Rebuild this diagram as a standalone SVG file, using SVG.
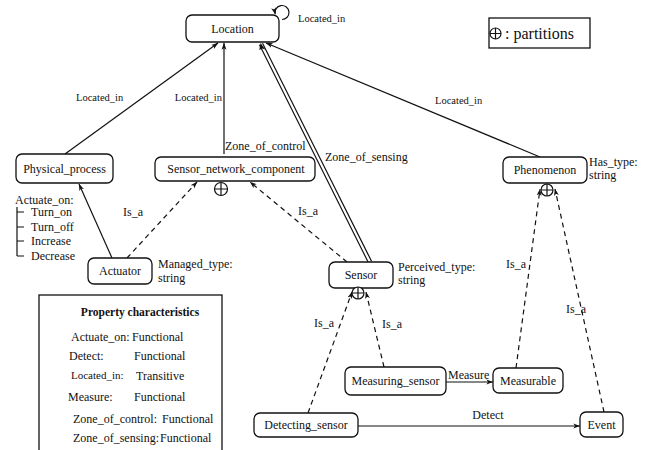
<svg xmlns="http://www.w3.org/2000/svg" width="651" height="450" viewBox="0 0 651 450" font-family="'Liberation Serif', 'DejaVu Serif', serif">
<style>
text{font-family:'Liberation Serif','Times New Roman','DejaVu Serif',serif;font-size:12px;fill:#111}
.n{fill:#fff;stroke:#111;stroke-width:1.3}
.c{text-anchor:middle}
.s{font-size:10.5px}
.e{fill:none;stroke:#111;stroke-width:1.2}
.d{fill:none;stroke:#111;stroke-width:1.2;stroke-dasharray:5,4}
.p{fill:#fff;stroke:#111;stroke-width:1.2}
</style>
<defs>
<marker id="a" viewBox="0 0 10 8" refX="9.5" refY="4" markerWidth="7" markerHeight="6" orient="auto" markerUnits="userSpaceOnUse">
<path d="M0,0.5 L10,4 L0,7.5 L2.5,4 Z" fill="#111"/>
</marker>
</defs>
<g id="connectors">
<path class="e" d="M282,19.5 A7 7 0 1 0 275.2,14.2" marker-end="url(#a)"/>
<line class="e" x1="65" y1="154" x2="218" y2="43" marker-end="url(#a)"/>
<line class="e" x1="224" y1="154" x2="224" y2="43" marker-end="url(#a)"/>
<line class="e" x1="540" y1="157" x2="266" y2="43" marker-end="url(#a)"/>
<line x1="370" y1="262" x2="261" y2="44" stroke="#111" stroke-width="4.6"/>
<line x1="370" y1="262" x2="261" y2="44" stroke="#fff" stroke-width="2.2"/>
<path d="M260.5,43 L265.3,49.5 L262.2,48.5 L259.3,50 Z" fill="#111"/>
<line class="e" x1="112" y1="258" x2="79" y2="184" marker-end="url(#a)"/>
<line class="d" x1="127" y1="258" x2="197" y2="182" marker-end="url(#a)"/>
<line class="d" x1="347" y1="262" x2="250" y2="182" marker-end="url(#a)"/>
<line class="d" x1="308" y1="413" x2="352" y2="292" marker-end="url(#a)"/>
<line class="d" x1="384" y1="367" x2="366" y2="292" marker-end="url(#a)"/>
<line class="d" x1="516" y1="368" x2="540" y2="189" marker-end="url(#a)"/>
<line class="d" x1="604" y1="412" x2="555" y2="189" marker-end="url(#a)"/>
<line class="e" x1="446" y1="382" x2="493" y2="382" marker-end="url(#a)"/>
<line class="e" x1="358" y1="426" x2="580" y2="426" marker-end="url(#a)"/>
<text class="s" x="298" y="22">Located_in</text>
<text class="s" x="76" y="101">Located_in</text>
<text class="s" x="222" y="101" text-anchor="end">Located_in</text>
<text class="s" x="435" y="104">Located_in</text>
<text x="225" y="150">Zone_of_control</text>
<text x="325" y="161">Zone_of_sensing</text>
<text x="123" y="216">Is_a</text>
<text x="298" y="215">Is_a</text>
<text x="314" y="327">Is_a</text>
<text x="382" y="328">Is_a</text>
<text x="506" y="268">Is_a</text>
<text x="566" y="313">Is_a</text>
<text x="448" y="379">Measure</text>
<text class="c" x="488" y="419">Detect</text>
</g>
<g id="Location"><rect class="n" x="186" y="15" width="93" height="27" rx="6"/><text class="c" x="232.5" y="32.5">Location</text></g>
<g id="Physical_process"><rect class="n" x="16" y="154" width="97" height="29" rx="6"/><text class="c" x="64.5" y="172.5">Physical_process</text>
<text x="15" y="203.5">Actuate_on:</text>
<path class="e" d="M17,207 V256 M17,212 H24 M17,227 H24 M17,241 H24 M17,256 H24"/>
<text x="31" y="216">Turn_on</text><text x="31" y="231">Turn_off</text><text x="31" y="245">Increase</text><text x="31" y="260">Decrease</text></g>
<g id="Sensor_network_component"><rect class="n" x="155" y="157" width="160" height="24" rx="6"/><text class="c" x="236" y="173">Sensor_network_component</text>
<circle class="p" cx="221" cy="189" r="6.5"/><path class="e" d="M214.5,189 H227.5 M221,182.5 V195.5"/></g>
<g id="Actuator"><rect class="n" x="88" y="258" width="64" height="26" rx="6"/><text class="c" x="120" y="275">Actuator</text>
<text x="158" y="268">Managed_type:</text><text x="158" y="281.5">string</text></g>
<g id="Sensor"><rect class="n" x="329" y="262" width="64" height="26" rx="6"/><text class="c" x="361" y="279">Sensor</text>
<circle class="p" cx="358" cy="293" r="6"/><path class="e" d="M352,293 H364 M358,287 V299"/>
<text x="398" y="271">Perceived_type:</text><text x="398" y="284">string</text></g>
<g id="Phenomenon"><rect class="n" x="503" y="157" width="84" height="26" rx="6"/><text class="c" x="545" y="174">Phenomenon</text>
<circle class="p" cx="547" cy="190" r="6"/><path class="e" d="M541,190 H553 M547,184 V196"/>
<text x="589" y="166">Has_type:</text><text x="589" y="179">string</text></g>
<g id="Measuring_sensor"><rect class="n" x="345" y="367" width="101" height="28" rx="6"/><text class="c" x="395.5" y="385">Measuring_sensor</text></g>
<g id="Measurable"><rect class="n" x="493" y="368" width="70" height="25" rx="6"/><text class="c" x="528" y="385">Measurable</text></g>
<g id="Detecting_sensor"><rect class="n" x="254" y="413" width="104" height="24" rx="6"/><text class="c" x="306" y="429">Detecting_sensor</text></g>
<g id="Event"><rect class="n" x="580" y="412" width="43" height="25" rx="6"/><text class="c" x="601.5" y="429">Event</text></g>
<g id="legend"><rect x="489" y="18" width="101" height="30" fill="#fff" stroke="#111" stroke-width="1.3"/>
<circle class="p" cx="495.5" cy="33.5" r="5.5"/><path class="e" d="M490,33.5 H501 M495.5,28 V39"/>
<text x="505" y="38.5" style="font-size:16px">: partitions</text></g>
<g id="property_characteristics"><rect x="39" y="295" width="183" height="170" fill="#fff" stroke="#111" stroke-width="1.3"/>
<text class="c" x="140" y="316" style="font-weight:bold;font-size:11.5px">Property characteristics</text>
<text x="71" y="341">Actuate_on:</text><text x="132" y="341">Functional</text>
<text x="69" y="360">Detect:</text><text x="134" y="360">Functional</text>
<text x="71" y="379" style="font-size:11px">Located_in:</text><text x="136" y="380">Transitive</text>
<text x="68" y="401">Measure:</text><text x="134" y="401">Functional</text>
<text x="73" y="423">Zone_of_control:</text><text x="162" y="423">Functional</text>
<text x="73" y="442">Zone_of_sensing:</text><text x="160" y="442">Functional</text></g>
</svg>
